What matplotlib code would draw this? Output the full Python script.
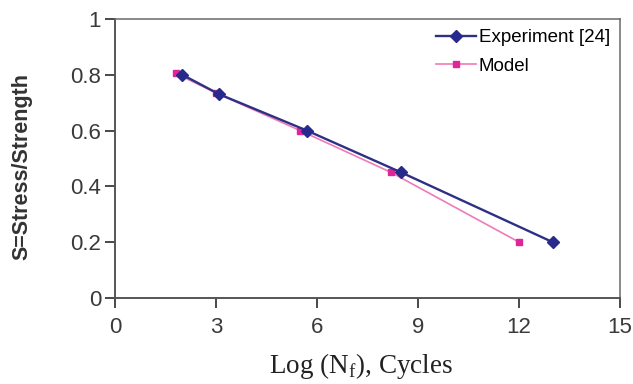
import matplotlib
matplotlib.use("Agg")
import matplotlib.pyplot as plt

# values
exp_x = [2.0, 3.1, 5.7, 8.5, 13.0]
exp_s = [0.80, 0.73, 0.60, 0.45, 0.20]
mod_x = [1.8, 3.0, 5.5, 8.2, 12.0]
mod_s = [0.805, 0.735, 0.60, 0.45, 0.20]
x_ticks = [0, 3, 6, 9, 12, 15]
y_ticks = [0, 0.2, 0.4, 0.6, 0.8, 1]
y_tick_labels = ["0", "0.2", "0.4", "0.6", "0.8", "1"]

plt.rcParams["font.family"] = ["Liberation Sans", "DejaVu Sans"]

fig = plt.figure(figsize=(6.33, 3.84), dpi=100)
ax = fig.add_axes([0.1817, 0.224, 0.798, 0.7265])

ax.plot(mod_x, mod_s, color="#f07ab8", linewidth=1.2, marker="s",
        markersize=5, markerfacecolor="#e0259a", markeredgecolor="#e0259a",
        label="Model", zorder=2)
ax.plot(exp_x, exp_s, color="#2e3083", linewidth=1.7, marker="D",
        markersize=6.2, markerfacecolor="#262a8c", markeredgecolor="#262a8c",
        label="Experiment [24]", zorder=3)

ax.set_xlim(0, 15)
ax.set_ylim(0, 1)
ax.set_xticks(x_ticks)
ax.set_yticks(y_ticks)
ax.set_yticklabels(y_tick_labels)
ax.tick_params(labelsize=16, colors="#3a3a3a", length=7, width=1.3,
               direction="out", pad=3)
ax.tick_params(axis="x", pad=7)

for side in ["left", "bottom"]:
    ax.spines[side].set_color("#555555")
    ax.spines[side].set_linewidth(1.4)
for side in ["top", "right"]:
    ax.spines[side].set_color("#6a6a6a")
    ax.spines[side].set_linewidth(1.1)

ax.set_xlabel(r"Log (N$_\mathregular{f}$), Cycles", fontsize=19.5,
              family="Liberation Serif", color="#222222")
ax.xaxis.set_label_coords(0.487, -0.19)
ax.set_ylabel("S=Stress/Strength", fontsize=15.5, fontweight="bold",
              color="#333333")
ax.yaxis.set_label_coords(-0.163, 0.47)

handles, labels = ax.get_legend_handles_labels()
ax.legend(handles[::-1], labels[::-1], loc="upper right", frameon=False,
          fontsize=13.5, handlelength=2.1, handletextpad=0.15,
          labelspacing=0.6, borderaxespad=0.1, borderpad=0.45)

fig.savefig("out.png", dpi=100)
